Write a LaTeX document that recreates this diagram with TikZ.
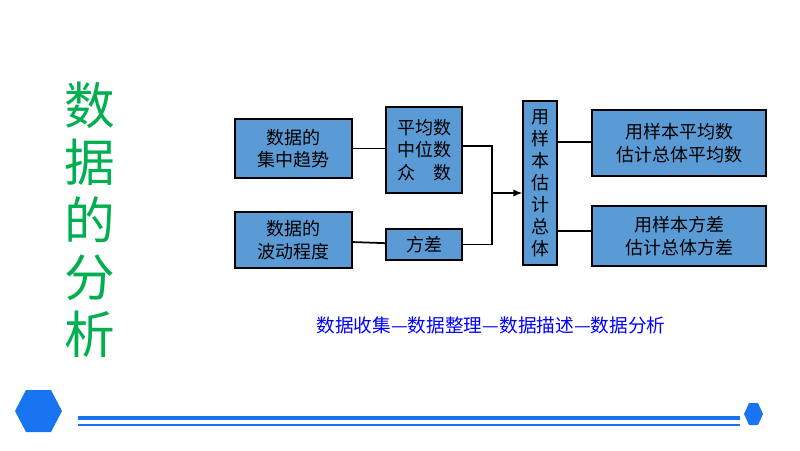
\documentclass[tikz,border=0pt]{standalone}
\usepackage{fontspec}
\setmainfont{Noto Sans CJK SC}
\definecolor{boxblue}{HTML}{5B9BD5}
\definecolor{titlegreen}{HTML}{00B050}
\definecolor{lineblue}{HTML}{1874F0}
\begin{document}
\begin{tikzpicture}[x=0.75pt,y=-0.75pt,
  box/.style={draw=black,line width=1.5pt,fill=boxblue,align=center,font=\fontsize{13.5}{17}\selectfont,inner sep=0pt},
  link/.style={line width=1.3pt}]
    \useasboundingbox (0,0) rectangle (800,450);
    % title
    \node[titlegreen,font=\fontsize{38}{43}\selectfont,align=center] (title) at (90,220) {数\\据\\的\\分\\析};
    % boxes
    \node[box,minimum width=88pt,minimum height=44pt] (tend) at (293.5,148.5) {数据的\\集中趋势};
    \node[box,minimum width=88pt,minimum height=42pt] (wave) at (293.5,240) {数据的\\波动程度};
    \node[box,minimum width=57pt,minimum height=64pt] (avg) at (424,150) {平均数\\中位数\\众\hspace{1em}数};
    \node[box,minimum width=57pt,minimum height=23pt] (var) at (424,244.5) {方差};
    \node[box,minimum width=25pt,minimum height=123pt,font=\fontsize{13.5}{16.5}\selectfont] (est) at (540,183) {用\\样\\本\\估\\计\\总\\体};
    \node[box,minimum width=130pt,minimum height=50pt] (estavg) at (679,143) {用样本平均数\\估计总体平均数};
    \node[box,minimum width=130pt,minimum height=45pt] (estvar) at (679,236) {用样本方差\\估计总体方差};
    % connectors
    \coordinate (join) at (492,193);
    \draw[link] (tend) -- (avg.west |- tend);
    \draw[link] (wave) -- (var);
    \draw[link] (avg.east |- 0,146) -- (492,146) |- (var.east);
    \draw[link,-latex] (join) -- (est.west |- join);
    \draw[link] (est.east |- 0,142) -- (estavg.west |- 0,142);
    \draw[link] (est.east |- 0,231) -- (estvar.west |- 0,231);
    % motto
    \node[blue,font=\fontsize{14}{17}\selectfont] (flow) at (491,325) {数据收集—数据整理—数据描述—数据分析};
    % bottom bar
    \fill[lineblue] (26,390) -- (51,390) -- (62,411) -- (51,432) -- (26,432) -- (15,411) -- cycle;
    \fill[lineblue] (749,403) -- (758,403) -- (763,414) -- (758,425) -- (749,425) -- (744,414) -- cycle;
    \draw[lineblue,line width=3.5pt] (78,418) -- (740,418);
    \draw[lineblue,line width=1.3pt] (78,425) -- (740,425);
\end{tikzpicture}
\end{document}
